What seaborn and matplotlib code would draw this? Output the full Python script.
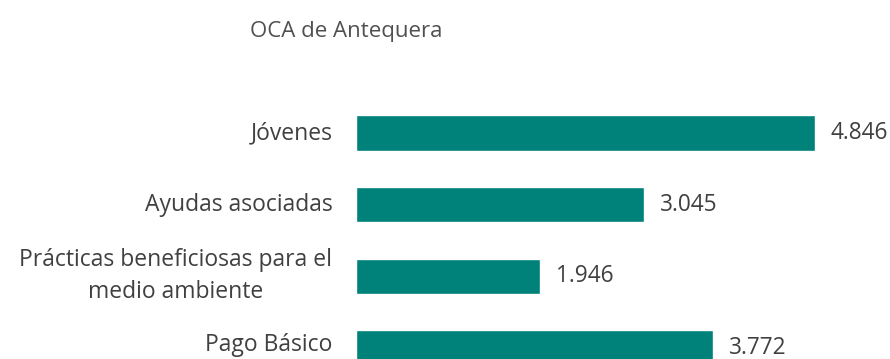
import matplotlib
matplotlib.use("Agg")
import matplotlib.pyplot as plt
import matplotlib.transforms as mtransforms
import seaborn as sns
import pandas as pd

categories = ["Jóvenes", "Ayudas asociadas",
              "Prácticas beneficiosas para el\nmedio ambiente", "Pago Básico"]
values = [4846, 3045, 1946, 3772]
title = "OCA de Antequera"

df = pd.DataFrame({"categoria": categories, "valor": values})

sns.set_theme(style="white")
plt.rcParams["font.family"] = ["Open Sans", "DejaVu Sans"]

W, H = 890, 359
fig = plt.figure(figsize=(W / 100, H / 100), dpi=100)
ax = fig.add_axes([356 / W, 0, 521 / W, 1])

teal = "#00817A"
sns.barplot(data=df, x="valor", y="categoria", color=teal, width=0.49,
            orient="h", ax=ax, saturation=1)

ax.set_xlim(0, 5500)
ax.set_ylim(3.16, -1.86)
ax.set_xlabel("")
ax.set_ylabel("")
ax.set_xticks([])
for s in ax.spines.values():
    s.set_visible(False)

ax.tick_params(axis="y", length=0, pad=17, labelsize=16.5, labelcolor="#404040")
for lbl in ax.get_yticklabels():
    lbl.set_multialignment("center")
    lbl.set_linespacing(1.4)
    lbl.set_verticalalignment("center")

# keep the last category label clear of the bottom edge
last = ax.get_yticklabels()[-1]
last.set_transform(last.get_transform()
                   + mtransforms.ScaledTranslation(0, 3 / 100, fig.dpi_scale_trans))

for i, v in enumerate(values):
    txt = f"{v:,}".replace(",", ".")
    ax.annotate(txt, xy=(v, i), xytext=(11, 0), textcoords="offset points",
                va="center", ha="left", fontsize=16.3, color="#404040")

fig.text(250 / W, 1 - 31 / H, title, ha="left", va="center",
         fontsize=16, color="#505050")

fig.savefig("out.png", dpi=100)
